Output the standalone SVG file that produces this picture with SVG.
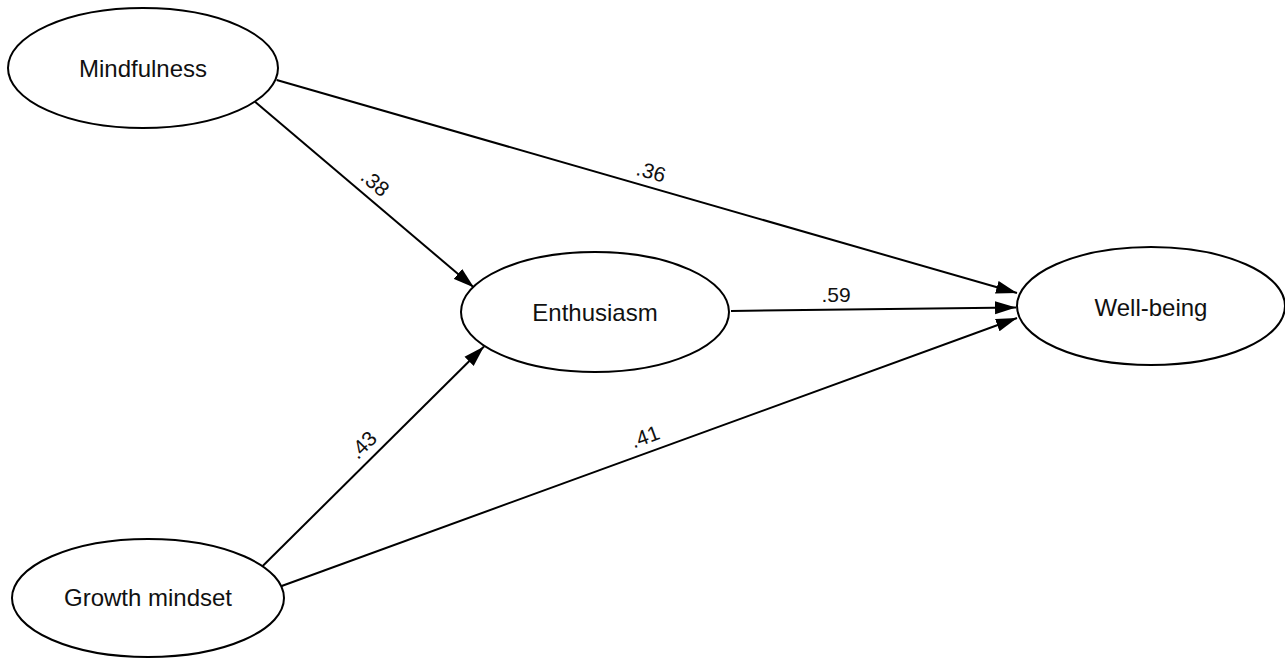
<svg xmlns="http://www.w3.org/2000/svg" width="1285" height="658" viewBox="0 0 1285 658">
<style>
.node ellipse{fill:#fff;stroke:#000;stroke-width:2}
.node text{font-family:"Liberation Sans",Arial,sans-serif;font-size:24px;text-anchor:middle;fill:#111}
.edge line{stroke:#000;stroke-width:2;marker-end:url(#arr)}
.lbl{font-family:"Liberation Sans",Arial,sans-serif;font-size:21px;text-anchor:middle;fill:#111}
</style>
<defs>
<marker id="arr" markerUnits="userSpaceOnUse" markerWidth="22" markerHeight="14" refX="21" refY="6.5" orient="auto" viewBox="0 0 22 13">
<path d="M0,0 L21,6.5 L0,13 z" fill="#000"/>
</marker>
</defs>
<rect width="1285" height="658" fill="#fff"/>
<g id="connectors" class="edge">
<line x1="255" y1="101.7" x2="474" y2="287.5"/>
<line x1="276.7" y1="80" x2="1017" y2="293"/>
<line x1="731" y1="311" x2="1016" y2="307.5"/>
<line x1="262.7" y1="566" x2="484" y2="346.5"/>
<line x1="281.7" y1="586" x2="1017" y2="318"/>
<text class="lbl" transform="translate(375,183) rotate(40.5)" y="7">.38</text>
<text class="lbl" transform="translate(651,172) rotate(16)" y="7">.36</text>
<text class="lbl" transform="translate(836,295)" y="7">.59</text>
<text class="lbl" transform="translate(363,445) rotate(-45)" y="7">.43</text>
<text class="lbl" transform="translate(645,437) rotate(-20)" y="7">.41</text>
</g>
<g id="mindfulness" class="node">
<ellipse cx="143" cy="68" rx="135" ry="60"/>
<text x="143" y="77">Mindfulness</text>
</g>
<g id="enthusiasm" class="node">
<ellipse cx="595" cy="312" rx="134" ry="60"/>
<text x="595" y="321">Enthusiasm</text>
</g>
<g id="wellbeing" class="node">
<ellipse cx="1151" cy="306" rx="134" ry="59"/>
<text x="1151" y="316">Well-being</text>
</g>
<g id="growth" class="node">
<ellipse cx="148" cy="598" rx="136" ry="59"/>
<text x="148" y="606">Growth mindset</text>
</g>
</svg>
